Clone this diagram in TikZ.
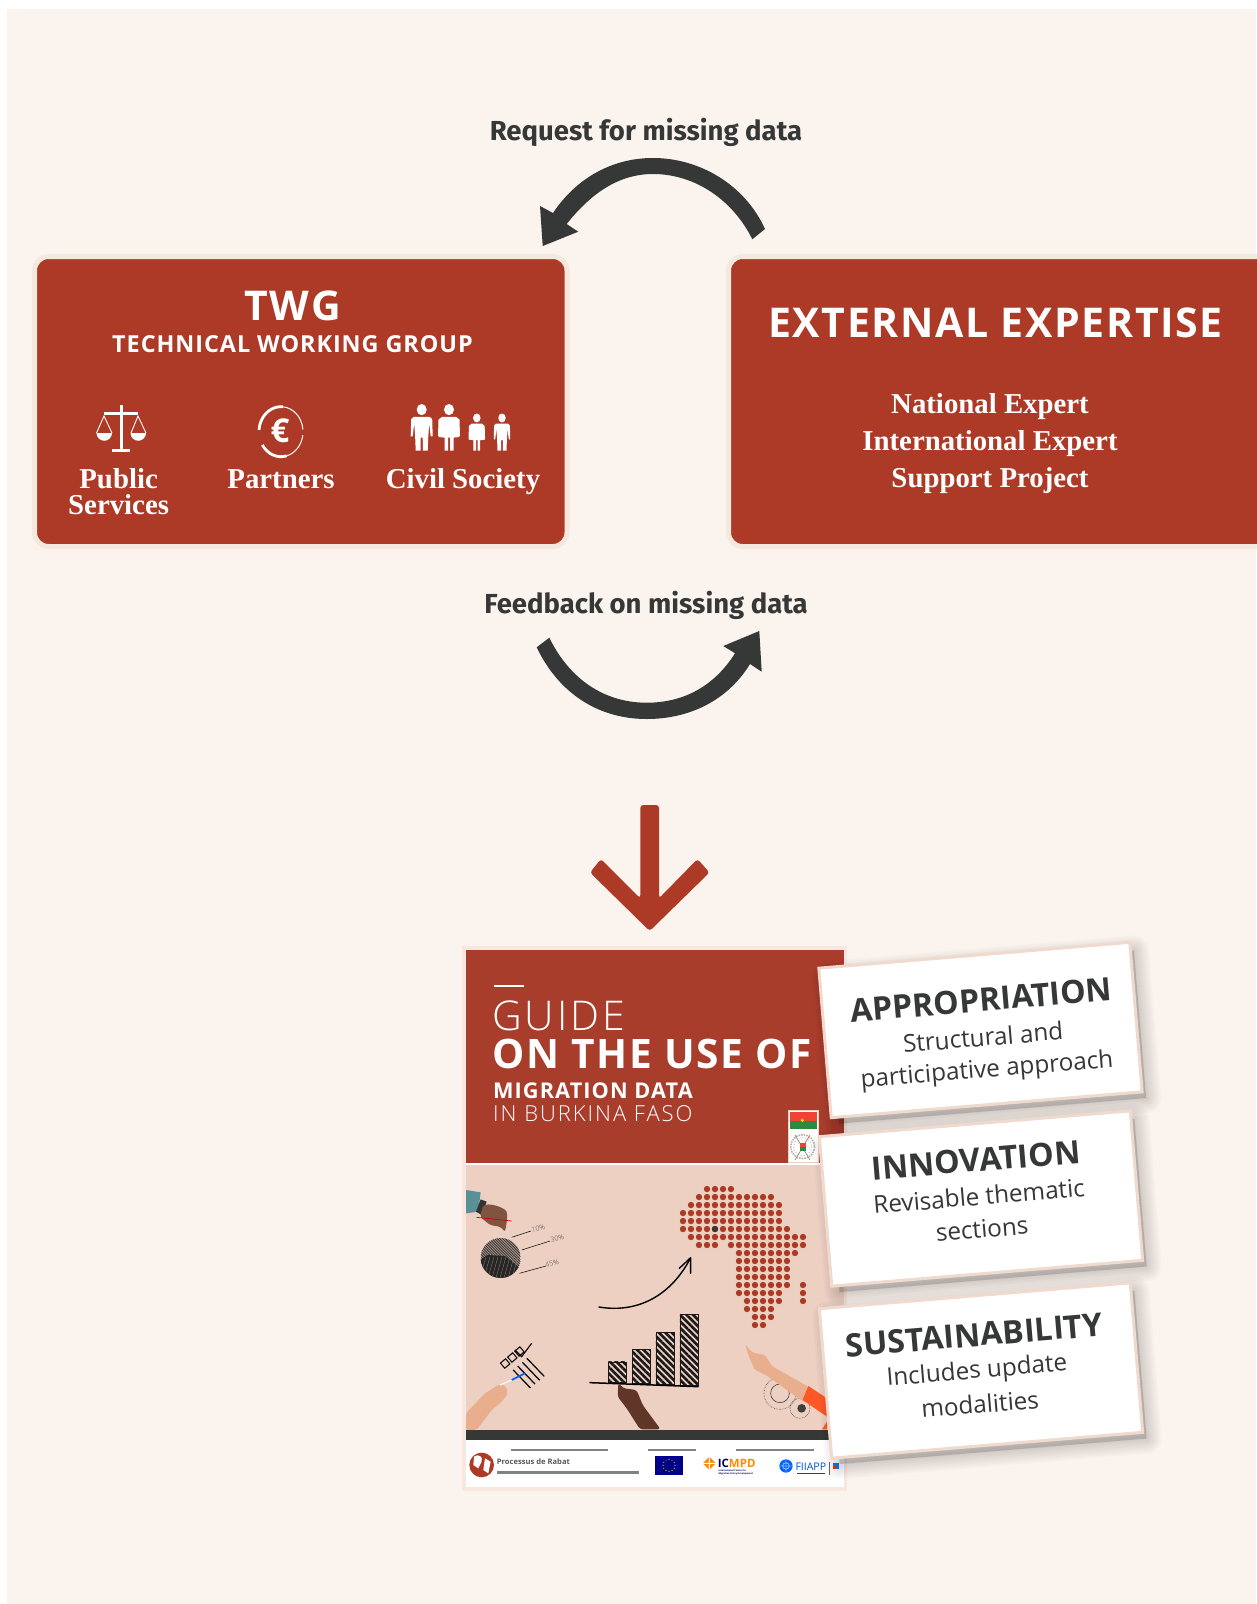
\documentclass[tikz,border=0pt]{standalone}
\usepackage{fontspec}
\usetikzlibrary{patterns.meta}
\setmainfont{Open Sans}
\newfontfamily\fira{Fira Sans}
\newfontfamily\opn{Open Sans}
\newfontfamily\opnlight{Open Sans Light}
\newcommand{\opnsemi}{\opn\bfseries}
\newfontfamily\serifb{Liberation Serif}
\newcommand{\fsz}[1]{\fontsize{#1}{#1}\selectfont}
\newcommand{\spc}[1]{\addfontfeature{LetterSpace=#1}}
\definecolor{bgc}{HTML}{FBF3EE}
\definecolor{halo}{HTML}{F7E8DF}
\definecolor{brick}{HTML}{AD3A27}
\definecolor{coverred}{HTML}{A93D2C}
\definecolor{pinkc}{HTML}{EDD0C2}
\definecolor{darkc}{HTML}{363837}
\definecolor{cardb}{HTML}{F0DACE}
\definecolor{skin}{HTML}{E8AE8E}
\definecolor{darkskin}{HTML}{5F3628}
\definecolor{greybar}{HTML}{7E8383}
\definecolor{flagr}{HTML}{EF4435}
\definecolor{flagg}{HTML}{2B8A3E}
\definecolor{sleeve}{HTML}{5C9097}
\tikzset{
  panel/.style={fill=brick,draw=halo,line width=5pt,rounded corners=14pt},
  lbl/.style={font=\fira\bfseries\fsz{27.5},text=darkc,inner sep=0pt},
  head/.style={text=white,inner sep=0pt},
  ser/.style={font=\serifb\bfseries\fsz{28.8},text=white,inner sep=0pt},
  cardbox/.style={fill=white,draw=cardb,line width=3pt,rotate=4.75,minimum width=312pt,minimum height=150pt,inner sep=0pt},
  ctitle/.style={font=\opnsemi\fsz{32.2},text=darkc,rotate=4.75,inner sep=0pt},
  ctext/.style={font=\opn\fsz{24.3},text=darkc,rotate=4.75,inner sep=0pt},
  covert/.style={anchor=base west,inner sep=0pt,text=white},
  hatchbar/.style={pattern={Lines[angle=-45,distance=4.6pt,line width=2.7pt]},pattern color=black!90,draw=black!90,line width=.8pt},
}
\newcommand{\cardshadow}[2]{%
  \begin{scope}[shift={(#1+6,#2+7)},rotate=4.75]
    \foreach \w in {30,26,22,18,14,10,6,2}
      \draw[black,fill=black,line width=\w pt,opacity=.018,line join=round] (-154,-74) rectangle (154,74);
  \end{scope}}
\newcommand{\euroarc}[3]{% visual angles from, to; line width
  \draw[white,line width=#3pt] ({281+22*cos(#1)},{431.7-25*sin(#1)}) arc[start angle=-#1,end angle=-#2,x radius=22,y radius=25];}
\newcommand{\personM}{%
  \fill[white] (0,5) circle[radius=5];
  \fill[white] (-8,11.5)--(8,11.5)--(10.5,13.5)--(11,29)--(9,29)--(7.5,17)--(6.5,30)--(6,41.7)--(1.2,41.7)--(1,30)--(-1,30)--(-1.2,41.7)--(-6,41.7)--(-6.5,30)--(-7.5,17)--(-9,29)--(-11,29)--(-10.5,13.5)--cycle;}
\newcommand{\personW}{%
  \fill[white] (0,5) circle[radius=5];
  \fill[white] (-7,11.5)--(7,11.5)--(10.5,14)--(11,29)--(9,29)--(6.5,17)--(10,29.5)--(4.5,30)--(4.5,41.7)--(1,41.7)--(1,30)--(-1,30)--(-1,41.7)--(-4.5,41.7)--(-4.5,30)--(-10,29.5)--(-6.5,17)--(-9,29)--(-11,29)--(-10.5,14)--cycle;}
\begin{document}
\begin{tikzpicture}[x=1pt,y=-1pt]
\useasboundingbox (0,0) rectangle (1256,1604);
\fill[white] (0,0) rectangle (1256,1604);
\fill[bgc] (7,9) rectangle (1256,1604);

% top labels and arrows
\node[lbl] (req) at (646,132) {Request for missing data};
\fill[darkc] (765,229) .. controls (745,185) and (700,158) .. (653,158)
  .. controls (610,158) and (575,180) .. (553,213) -- (540,206) -- (542.7,246) -- (578.3,231.7) -- (566.7,224)
  .. controls (592,192) and (620,174) .. (653,174)
  .. controls (695,174) and (733,200) .. (752.3,239.3) -- cycle;
\node[lbl] (fb) at (646,605.5) {Feedback on missing data};
\fill[darkc] (549.3,637.7) .. controls (570,680) and (605,702.7) .. (646.7,702.7)
  .. controls (685,702.7) and (715,685) .. (735,653.3) -- (723.3,646) -- (759.3,631) -- (761.7,671.7) -- (750,664)
  .. controls (728,700) and (690,719) .. (646.7,719)
  .. controls (597,719) and (558,692) .. (536.7,647.3) -- cycle;

% TWG panel
\draw[panel] (34.5,256.5) rectangle (567,546.5);
\node[head,font=\opnsemi\fsz{41}\spc{5}] (twg) at (292.5,306) {TWG};
\node[head,font=\opnsemi\fsz{23.4}\spc{4}] (twgsub) at (292.5,344) {TECHNICAL WORKING GROUP};
\node[ser] (ps1) at (118.6,478.7) {Public};
\node[ser] (ps2) at (118.6,504.5) {Services};
\node[ser] (pa) at (281,479.5) {Partners};
\node[ser] (cs) at (463,482) {Civil Society};
% scales
\fill[white] (120,405) rectangle (122.6,450);
\fill[white] (112,449) rectangle (130,452);
\fill[white] (104,412) rectangle (138,415);
\draw[white,line width=.9pt] (96.5,433)--(104,416)--(112,433) (131,433)--(138,416)--(146,433);
\fill[white] (96.5,433) -- (112,433) arc[start angle=0,end angle=180,radius=7.75] ;
\fill[white] (130.5,433) -- (146,433) arc[start angle=0,end angle=180,radius=7.75] ;
% euro
\euroarc{176}{85}{2.8}
\euroarc{85}{5}{1}
\euroarc{212}{285}{2.8}
\euroarc{285}{352}{1}
\node[inner sep=0pt,text=white,font=\opn\bfseries\fsz{33}] (euro) at (280,431) {€};
% people
\begin{scope}[shift={(421.7,404)},yscale=1.12]\personM\end{scope}
\begin{scope}[shift={(449,404)},yscale=1.12]\personW\end{scope}
\begin{scope}[shift={(476.8,413.5)},xscale=.75,yscale=.89]\personW\end{scope}
\begin{scope}[shift={(502,413.5)},xscale=.75,yscale=.89]\personM\end{scope}

% External panel
\draw[panel] (728.5,256.5) rectangle (1290,546.5);
\node[head,font=\opnsemi\fsz{41}\spc{4}] (ext) at (995.5,323) {EXTERNAL EXPERTISE};
\node[ser] (e1) at (990,407) {National Expert};
\node[ser] (e2) at (990,444) {International Expert};
\node[ser] (e3) at (990,481) {Support Project};

% big arrow
\fill[brick,rounded corners=3pt] (640.3,805) -- (659,805) -- (659,898.3) -- (697.5,859) -- (709.5,872.5) -- (649.7,931) -- (590,872.5) -- (601,859) -- (640.3,898.3) -- cycle;

% cover
\fill[halo] (462,946) rectangle (847,1491);
\fill[coverred] (466,949.5) rectangle (843.5,1163);
\fill[white] (466,1163) rectangle (843.5,1165);
\fill[pinkc] (466,1165) rectangle (843.5,1430);
\fill[darkc] (466,1430) rectangle (843.5,1440);
\fill[white] (466,1440) rectangle (843.5,1487);
\fill[white] (494.3,985) rectangle (524.3,987);
\node[covert,font=\opnlight\fsz{41}\spc{7}] (c1) at (492,1030) {GUIDE};
\node[covert,font=\opn\bfseries\fsz{40.6}\spc{4}] (c2) at (492,1068.3) {ON THE USE OF};
\node[covert,font=\opn\bfseries\fsz{21.7}\spc{5}] (c3) at (493,1098) {MIGRATION DATA};
\node[covert,font=\opnlight\fsz{22}\spc{9}] (c4) at (493,1121.3) {IN BURKINA FASO};

% flag and emblem (zoom coordinates)
\begin{scope}[shift={(440,930)},x=.3333pt,y=-.3333pt]
  \fill[white] (1045,542) rectangle (1135,697);
  \draw[pinkc,line width=.5pt] (1045,542) rectangle (1135,697);
  \fill[flagr] (1050,547) rectangle (1130,572);
  \fill[flagg] (1050,572) rectangle (1130,597);
  \fill[yellow!90!orange] (1087,571) circle[radius=5];
  \draw[gray!60,line width=1.6pt,densely dotted] (1088,650) circle[radius=36];
  \draw[gray!50,line width=1pt,dotted] (1088,650) circle[radius=27];
  \draw[brown!70!gray,line width=.7pt] (1065,615)--(1110,690) (1110,615)--(1065,690);
  \fill[flagr] (1079,638) rectangle (1097,650);
  \fill[flagg] (1079,650) rectangle (1097,662);
\end{scope}

% illustration (zoom coordinates)
\begin{scope}[shift={(450,1160)},x=.3333pt,y=-.3333pt]
  % Africa
  \foreach \y/\a/\b in {87/3/6,111/2/11,135/1/12,159/0/12,183/0/12,207/0/13,231/1/15,255/2/4,255/6/15,279/7/14,303/7/13,327/7/13,351/7/13,375/7/13,399/7/12,423/8/12,447/8/11,471/9/11,495/9/10}
    \foreach \i in {\a,...,\b}
      \fill[brick] ({699+24*\i},\y) circle[radius=9.5];
  \foreach \y in {375,399,423} \fill[brick] (1059,\y) circle[radius=9.5];
  \fill[darkc] (795,207) circle[radius=9.5];
  % curved arrow
  \draw[black,line width=1.4pt,line cap=round,line join=round] (447,441) .. controls (560,460) and (660,410) .. (720,297);
  \draw[black,line width=1.4pt,line cap=round,line join=round] (688,325) -- (722,293) -- (722,340);
  % bars
  \draw[hatchbar] (475,606) rectangle (528,668);
  \draw[hatchbar] (547,568) rectangle (601,670);
  \draw[hatchbar] (618,517) rectangle (672,672);
  \draw[hatchbar] (690,463) rectangle (745,676);
  \draw[black,line width=1.5pt,line cap=round] (420,668) -- (745,680);
  % pie
  \begin{scope}
    \clip (152,294) circle[radius=60];
    \fill[pinkc!70!black] (92,234) rectangle (212,354);
    \foreach \k in {-70,-62,...,200}
      \draw[black!85,line width=.6pt] (\k+50,234) -- (\k+170,354);
    \fill[black!85] (92,298) -- (112,285) -- (165,288) -- (212,325) -- (212,354) -- (92,354) -- cycle;
    \foreach \k in {96,108,...,210}
      \draw[pinkc!60!black,line width=.35pt] (\k,290) -- (\k-18,354);
  \end{scope}
  \draw[black,line width=.5pt] (185,232) -- (243,213) (215,270) -- (300,243) (208,340) -- (288,318);
  \node[inner sep=0pt,text=black!70,font=\opnlight\fsz{7},rotate=12] (p1) at (265,205) {10\%};
  \node[inner sep=0pt,text=black!70,font=\opnlight\fsz{7},rotate=12] (p2) at (322,235) {30\%};
  \node[inner sep=0pt,text=black!70,font=\opnlight\fsz{7},rotate=12] (p3) at (306,311) {45\%};
  % top-left hand
  \fill[sleeve] (48,90) -- (92,97) -- (85,155) -- (48,160) -- cycle;
  \fill[black!80] (92,118) -- (110,125) -- (95,165) -- (78,155) -- cycle;
  \fill[darkskin!75!skin,rounded corners=2pt] (100,135) .. controls (130,130) and (165,145) .. (172,160) -- (170,190) -- (165,215) -- (150,200) -- (120,195) -- (90,170) -- cycle;
  \draw[red!80!black,line width=.7pt] (80,172) -- (185,183);
  % checklist
  \begin{scope}[shift={(190,590)},rotate=40]
    \foreach \q in {-32,-4,24}
      \draw[black,line width=1pt] (\q-10,-10) rectangle (\q+10,10);
    \foreach \q in {-26,-8,10,28}
      \draw[black,line width=1.2pt] (\q,30) -- (\q+5,105);
  \end{scope}
  \draw[black,line width=1.1pt] (195,570) -- (215,590) -- (245,550);
  % bottom-left hand
  \fill[skin,rounded corners=2pt] (48,810) -- (48,760) -- (105,700) -- (150,672) -- (170,680) -- (172,705) -- (150,730) -- (125,750) -- (80,810) -- cycle;
  \draw[white,line width=1.1pt] (150,675) -- (185,660);
  \draw[blue!60!cyan,line width=1.8pt] (185,660) -- (225,640);
  % dark hand
  \fill[darkskin,rounded corners=3pt] (505,668) -- (520,685) -- (560,690) -- (578,735) -- (632,808) -- (570,808) -- (530,745) -- (503,710) -- cycle;
  % gears
  \draw[black!75,line width=.6pt,densely dotted] (990,700) circle[radius=48];
  \draw[black!75,line width=.6pt] (990,700) circle[radius=28];
  \draw[black!75,line width=.6pt,densely dotted] (1050,745) circle[radius=30];
  \fill[black!75] (1055,745) circle[radius=13];
  % pointing hand and arm
  \fill[skin,rounded corners=2pt] (885,553) -- (908,578) -- (945,585) -- (968,620) -- (1075,680) -- (1070,730) -- (1050,718) -- (948,645) -- (915,630) -- (897,590) -- cycle;
  \fill[red!55!orange!85!white] (1075,678) -- (1131,715) -- (1131,770) -- (1058,720) -- cycle;
  \fill[red!55!orange!85!white] (1116,808) -- (1131,785) -- (1131,808) -- cycle;
  % footer
  \foreach \a/\b/\c in {183/475/870,595/737/870,858/1093/870,140/568/937}
    \fill[greybar] (\a,\c-4) rectangle (\b,\c+4);
  \fill[brick] (95,915) circle[radius=37];
  \fill[white] (72,890) .. controls (85,880) and (100,890) .. (95,905) -- (85,925) -- (70,915) -- cycle;
  \fill[white] (105,895) -- (122,905) -- (115,940) -- (100,930) -- cycle;
  \node[anchor=base west,inner sep=0pt,text=black!65,font=\opn\bfseries\fsz{7.6}] (rabat) at (140,915) {Processus de Rabat};
  \fill[blue!55!black] (616,888) rectangle (698,945);
  \foreach \s in {0,30,...,330}
    \fill[yellow!90!orange] ({657+18*cos(\s)},{916+18*sin(\s)}) circle[radius=1.8];
  \fill[orange!90!yellow,rotate around={45:(778,910)}] (764,896) rectangle (792,924);
  \fill[white] (776.5,890) rectangle (779.5,930) (758,908.5) rectangle (798,911.5);
  \node[anchor=base west,inner sep=0pt,font=\opn\bfseries\fsz{11.5}] (icmpd) at (803,924) {\textcolor{blue!35!black}{IC}\textcolor{orange!90!yellow}{MPD}};
  \node[anchor=north west,inner sep=0pt,align=left,text=blue!35!black,font=\opn\bfseries\fsz{2.3}] (icmpd2) at (805,929) {International Centre for\\[.6pt]Migration Policy Development};
  \fill[blue!60!cyan] (1008,918) circle[radius=20];
  \draw[white,line width=.4pt] (1008,898) -- (1008,938) (988,918) -- (1028,918) (1008,918) circle[radius=10];
  \node[anchor=base west,inner sep=0pt,text=blue!60!cyan!80!black,font=\opn\fsz{10.5}] (fiiapp) at (1036,931) {FIIAPP};
  \fill[blue!60!cyan!70!black] (1040,938) rectangle (1125,943);
  \fill[black!60] (1137,905) rectangle (1138.5,945);
  \fill[blue!50!cyan] (1150,910) rectangle (1168,927);
  \fill[red!60!orange] (1150,918) rectangle (1159,927);
\end{scope}

% cards
\cardshadow{980.5}{1030}
\node[cardbox] (card1) at (980.5,1030) {};
\node[ctitle] (t1) at (981,1000) {APPROPRIATION};
\node[ctext] (t1a) at (983,1037) {Structural and};
\node[ctext] (t1b) at (987,1071) {participative approach};
\cardshadow{981}{1198.5}
\node[cardbox] (card2) at (981,1198.5) {};
\node[ctitle] (t2) at (976,1160) {INNOVATION};
\node[ctext] (t2a) at (979,1196) {Revisable thematic};
\node[ctext] (t2b) at (982,1229) {sections};
\cardshadow{981}{1370.5}
\node[cardbox] (card3) at (981,1370.5) {};
\node[ctitle] (t3) at (974,1335) {SUSTAINABILITY};
\node[ctext] (t3a) at (977,1372) {Includes update};
\node[ctext] (t3b) at (980,1404) {modalities};
\end{tikzpicture}
\end{document}
